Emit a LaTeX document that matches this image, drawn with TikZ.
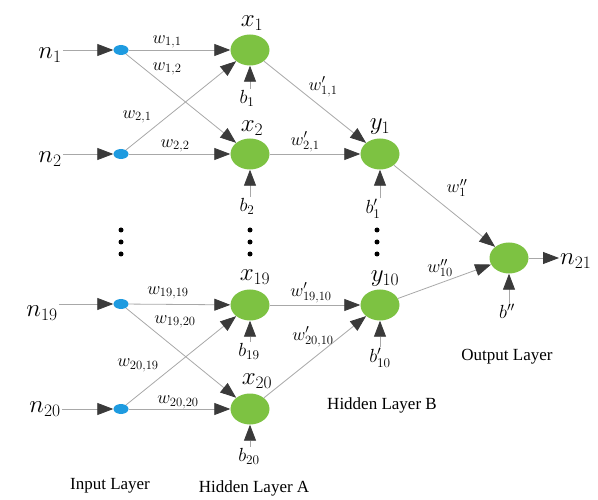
\RequirePackage{fix-cm}
\documentclass[tikz,border=0pt]{standalone}
\usepackage{fontspec}
\newfontfamily\layerfont{Liberation Serif}
\usetikzlibrary{arrows.meta,shapes.geometric}
\definecolor{dotblue}{HTML}{1E9BE0}
\definecolor{neurgreen}{HTML}{7DC242}
\definecolor{linegray}{HTML}{A8A8A8}
\definecolor{tipgray}{HTML}{3A3A3A}
\tikzset{
  conn/.style={draw=linegray, line width=0.8pt, -{Triangle[length=16pt,width=12pt,color=tipgray]}},
  inp/.style={ellipse, fill=dotblue, minimum width=15pt, minimum height=10pt, inner sep=0pt},
  neur/.style={ellipse, fill=neurgreen, minimum width=39pt, minimum height=31pt, inner sep=0pt},
  biglab/.style={font=\fontsize{25}{25}\selectfont, inner sep=1pt},
  wlab/.style={font=\fontsize{18}{18}\selectfont, inner sep=1pt},
  blab/.style={font=\fontsize{19}{19}\selectfont, inner sep=1pt},
  layerlab/.style={font=\fontsize{17}{17}\selectfont\layerfont, inner sep=0pt},
  vdot/.style={circle, fill=black, minimum size=5pt, inner sep=0pt}
}
\begin{document}
\begin{tikzpicture}[x=1pt,y=-1pt]
\useasboundingbox (0,0) rectangle (598,500);
% input dots
\node[inp] (i1) at (121,50) {};
\node[inp] (i2) at (121,154) {};
\node[inp] (i19) at (121,304) {};
\node[inp] (i20) at (121,409) {};
% input labels
\node[biglab] (n1) at (50,55) {$n_1$};
\node[biglab] (n2) at (50,159) {$n_2$};
\node[biglab] (n19) at (42,313) {$n_{19}$};
\node[biglab] (n20) at (45,409) {$n_{20}$};
\draw[conn] (n1.east |- i1) -- (i1);
\draw[conn] (n2.east |- i2) -- (i2);
\draw[conn] (n19.east |- i19) -- (i19);
\draw[conn] (n20.east |- i20) -- (i20);
% hidden A
\node[neur] (x1) at (250,50) {};
\node[neur] (x2) at (250,154) {};
\node[neur] (x19) at (250,305) {};
\node[neur] (x20) at (250,409) {};
\node[biglab] at (252,23) {$x_1$};
\node[biglab] at (252,128) {$x_2$};
\node[biglab] at (255,277) {$x_{19}$};
\node[biglab] at (257,381) {$x_{20}$};
% biases A
\node[blab] (b1) at (247,98) {$b_1$};
\node[blab] (b2) at (247,206) {$b_2$};
\node[blab] (b19) at (249,351) {$b_{19}$};
\node[blab] (b20) at (249,456) {$b_{20}$};
\draw[conn] (b1.north -| x1.south) -- (x1.south);
\draw[conn] (b2.north -| x2.south) -- (x2.south);
\draw[conn] (b19.north -| x19.south) -- (x19.south);
\draw[conn] (b20.north -| x20.south) -- (x20.south);
% input -> hidden A
\draw[conn] (i1) -- (x1);
\draw[conn] (i1) -- (x2);
\draw[conn] (i2) -- (x1);
\draw[conn] (i2) -- (x2);
\draw[conn] (i19) -- (x19);
\draw[conn] (i19) -- (x20);
\draw[conn] (i20) -- (x19);
\draw[conn] (i20) -- (x20);
\node[wlab] at (167,42) {$w_{1,1}$};
\node[wlab] at (167,69) {$w_{1,2}$};
\node[wlab] at (137,117) {$w_{2,1}$};
\node[wlab] at (175,146) {$w_{2,2}$};
\node[wlab] at (168,293) {$w_{19,19}$};
\node[wlab] at (175,322) {$w_{19,20}$};
\node[wlab] at (138,365) {$w_{20,19}$};
\node[wlab] at (178,402) {$w_{20,20}$};
% hidden B
\node[neur] (y1) at (380,154) {};
\node[neur] (y10) at (380,305) {};
\node[biglab] at (380,127) {$y_1$};
\node[biglab] at (385,279) {$y_{10}$};
\node[blab] (c1) at (373,209) {$b'_1$};
\node[blab] (c10) at (380,358) {$b'_{10}$};
\draw[conn] (c1.north -| y1.south) -- (y1.south);
\draw[conn] (c10.north -| y10.south) -- (y10.south);
\draw[conn] (x1) -- (y1);
\draw[conn] (x2) -- (y1);
\draw[conn] (x19) -- (y10);
\draw[conn] (x20) -- (y10);
\node[wlab] at (323,87) {$w'_{1,1}$};
\node[wlab] at (305,142) {$w'_{2,1}$};
\node[wlab] at (311,293) {$w'_{19,10}$};
\node[wlab] at (313,337) {$w'_{20,10}$};
% output
\node[neur] (o) at (509,258) {};
\node[blab] (bo) at (507,311) {$b''$};
\draw[conn] (bo.north -| o.south) -- (o.south);
\draw[conn] (y1) -- (o);
\draw[conn] (y10) -- (o);
\node[wlab] at (457,188) {$w''_1$};
\node[wlab] at (440,268) {$w''_{10}$};
\node[biglab, anchor=west] (n21) at (559,261) {$n_{21}$};
\draw[conn] (o.east) -- (n21.west |- o);
% vertical ellipses
\foreach \xx/\nm in {121/a,250/b,377/c}{
  \node[vdot] (\nm1) at (\xx,230) {};
  \node[vdot] (\nm2) at (\xx,242) {};
  \node[vdot] (\nm3) at (\xx,254) {};
}
% layer labels
\node[layerlab] (L1) at (110,486) {Input Layer};
\node[layerlab] (L2) at (254,488) {Hidden Layer A};
\node[layerlab] (L3) at (382,405) {Hidden Layer B};
\node[layerlab] (L4) at (507,357) {Output Layer};
\end{tikzpicture}
\end{document}
